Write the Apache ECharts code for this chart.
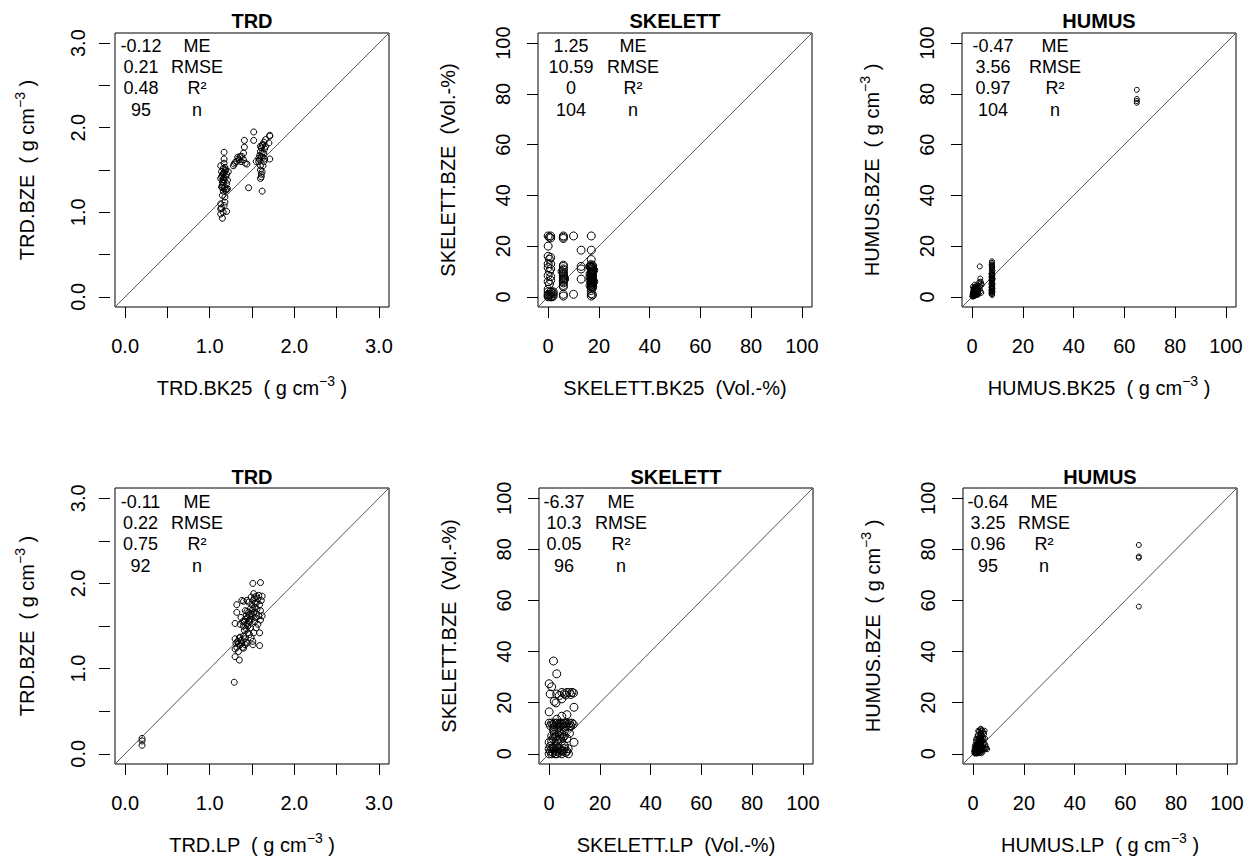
<!DOCTYPE html>
<html><head><meta charset="utf-8">
<script src="https://cdn.jsdelivr.net/npm/echarts@6/dist/echarts.min.js"></script>
<style>html,body{margin:0;padding:0;background:#fff}#c{width:1253px;height:861px}</style>
</head><body><div id="c"></div>
<script>
// ---------- data ----------
const panelTitles = ["TRD", "SKELETT", "HUMUS", "TRD", "SKELETT", "HUMUS"];
const xNames = ["TRD.BK25", "SKELETT.BK25", "HUMUS.BK25", "TRD.LP", "SKELETT.LP", "HUMUS.LP"];
const yNames = ["TRD.BZE", "SKELETT.BZE", "HUMUS.BZE", "TRD.BZE", "SKELETT.BZE", "HUMUS.BZE"];
const units = ["gcm", "vol", "gcm", "gcm", "vol", "gcm"];
const statLabels = ["ME", "RMSE", "R\u00B2", "n"];
const statValues = [
  ["-0.12", "0.21", "0.48", "95"],
  ["1.25", "10.59", "0", "104"],
  ["-0.47", "3.56", "0.97", "104"],
  ["-0.11", "0.22", "0.75", "92"],
  ["-6.37", "10.3", "0.05", "96"],
  ["-0.64", "3.25", "0.96", "95"]
];
const trdTicks = [0, 0.5, 1, 1.5, 2, 2.5, 3];
const trdTickLabels = [0, 1, 2, 3];
const pctTicks = [0, 20, 40, 60, 80, 100];
const pctTickLabels = [0, 20, 40, 60, 80, 100];
const trdRange = [-0.12, 3.12];
const pctRange = [-4, 104];

const trdBk25 = [
 [1.13,1.04],[1.13,0.98],[1.14,1.05],[1.15,0.93],[1.16,1.0],[1.17,1.08],[1.2,1.01],[1.18,1.12],[1.15,1.2],[1.16,1.25],
 [1.17,1.28],[1.14,1.30],[1.15,1.32],[1.16,1.35],[1.17,1.38],[1.13,1.40],[1.14,1.42],[1.15,1.44],[1.16,1.46],[1.17,1.47],
 [1.18,1.49],[1.19,1.50],[1.20,1.45],[1.21,1.28],[1.18,1.30],[1.19,1.26],[1.2,1.34],[1.15,1.36],[1.17,1.41],[1.16,1.52],
 [1.13,1.55],[1.17,1.58],[1.17,1.63],[1.17,1.71],[1.19,1.42],[1.14,1.48],[1.18,1.53],[1.15,1.29],[1.16,1.39],[1.2,1.27],
 [1.13,1.10],[1.18,1.18],[1.21,1.38],[1.22,1.48],
 [1.28,1.55],[1.29,1.57],[1.30,1.59],[1.32,1.60],[1.33,1.65],[1.34,1.63],[1.35,1.62],[1.36,1.66],[1.37,1.60],[1.38,1.66],
 [1.40,1.62],[1.40,1.70],[1.41,1.77],[1.41,1.85],[1.44,1.57],[1.46,1.29],[1.42,1.58],
 [1.58,1.60],[1.59,1.62],[1.60,1.55],[1.60,1.50],[1.61,1.45],[1.61,1.42],[1.60,1.40],[1.62,1.25],[1.59,1.67],[1.60,1.72],
 [1.61,1.76],[1.62,1.79],[1.63,1.80],[1.64,1.83],[1.62,1.70],[1.63,1.65],[1.64,1.60],[1.65,1.63],[1.66,1.86],[1.65,1.75],
 [1.63,1.55],[1.62,1.48],[1.61,1.66],[1.64,1.70],[1.66,1.78],[1.58,1.64],[1.60,1.78],
 [1.52,1.95],[1.52,1.85],[1.71,1.90],[1.71,1.91],[1.70,1.82],[1.71,1.63],[1.55,1.60]
];
const skelettBk25 = [
 [0,24],[0.5,23.5],[1,24],[1,23.2],[0,20],[0,16],[1,15.5],[0.5,14.8],[0,13],[1,13],
 [0,11.5],[1,11],[0.5,10],[0,8.4],[1,8],[0,6],[1,6.5],[0.5,5],[0,3],[0,2],
 [1,2],[0,1],[1,1],[0.5,0.5],[0,0],[1,0],[2,1.2],[2,0.3],[1.5,1.8],[0,0.5],[1.5,0],[2,2],
 [6,24],[6,23.5],[6,23],[6,12.5],[6,12],[6,11],[6,10.5],[6,9.5],[6,9],[6,8.5],
 [6,8],[6,7.5],[6,7],[6,6.5],[6,6],[6,5.5],[6,4.5],[6,4],[6,1],[6,0.3],[5.5,10],[6.5,7],
 [10,24],[10,1],[13,18.4],[13,12],[13,11],[13,7],
 [17,24],[17,18.4],[17,14.7],[17,12.7],[17,12],[17,11.3],[17,10.7],[17,10],[17,9.3],[17,8.7],
 [17,8],[17,7.3],[17,6.7],[17,6],[17,5.3],[17,4.7],[17,4],[17,3.3],[17,2.5],[17,1.2],
 [17,0.3],[17.5,12.3],[17.5,11.6],[17.5,10.9],[17.5,10.2],[17.5,9.6],[17.5,8.9],[17.5,8.3],[17.5,7.6],[17.5,6.9],
 [17.5,6.3],[17.5,5.6],[17.5,5.0],[17.5,4.3],[17.5,3.6],[17.5,0.8],[16.5,11.8],[16.5,9.0],[16.5,6.5],[16.5,4.4],
 [16.5,12.2],[16.5,7.8],[18,10.5],[18,6]
];
const humusBk25 = [
 [0.2,0.3],[0.3,0.8],[0.4,1.2],[0.5,0.5],[0.5,1.8],[0.6,2.2],[0.7,1.0],[0.8,0.4],[0.8,1.5],[0.9,2.8],
 [1.0,0.7],[1.0,3.2],[1.1,1.9],[1.2,2.5],[1.2,1.1],[1.3,0.6],[1.4,3.6],[1.5,2.0],[1.5,4.2],[1.6,1.4],
 [1.7,2.9],[1.8,0.9],[1.9,3.4],[2.0,2.4],[2.1,1.7],[2.2,4.6],[0.1,0.1],[0.3,1.5],[0.6,0.2],[0.9,1.3],
 [1.1,2.6],[1.3,3.0],[1.6,2.6],[1.9,1.2],[2.3,2.0],[2.4,3.1],[0.4,2.0],[0.7,2.7],[1.2,3.9],[1.7,1.8],
 [2.0,0.8],[0.2,1.0],[0.5,3.0],[0.8,2.3],[1.4,0.9],[1.8,3.8],[0.3,4.0],[1.0,4.8],[2.5,1.0],[0.6,3.5],
 [3.0,12.0],[3.2,7.2],[3.4,6.0],[3.5,5.3],[3.1,4.2],[3.3,2.2],[3.6,1.6],[3.0,3.0],[3.8,4.8],[2.8,5.8],
 [7.8,14.0],[7.8,13.4],[7.8,12.8],[7.8,12.0],[7.8,11.3],[7.8,10.8],[7.8,10.0],[7.8,9.4],[7.8,8.8],[7.8,8.2],
 [7.8,7.5],[7.8,7.0],[7.8,6.2],[7.8,5.6],[7.8,4.9],[7.8,4.3],[7.8,3.5],[7.8,3.0],[7.8,2.2],[7.8,1.6],
 [7.8,0.9],[7.6,9.0],[7.6,7.8],[7.6,6.6],[7.6,5.2],[7.6,3.8],[7.6,2.6],[7.6,1.3],[8.0,10.4],[8.0,8.5],
 [8.0,6.8],[8.0,5.0],[8.0,3.3],[8.0,2.0],[7.9,11.8],[7.7,12.5],[7.9,4.0],[7.7,1.9],[7.9,0.8],[8.0,7.3],
 [64.9,81.6],[64.9,78.0],[64.9,77.2],[64.9,76.5]
];
const trdLp = [
 [0.2,0.18],[0.2,0.15],[0.2,0.10],
 [1.29,0.84],[1.30,1.14],[1.35,1.10],[1.51,2.00],[1.60,2.01],[1.32,1.75],[1.32,1.66],[1.30,1.53],[1.59,1.42],[1.59,1.27],[1.51,1.28],[1.51,1.32],
 [1.30,1.35],[1.31,1.30],[1.32,1.25],[1.30,1.23],[1.33,1.32],[1.34,1.20],[1.35,1.36],[1.36,1.28],[1.37,1.33],[1.38,1.30],
 [1.39,1.25],[1.40,1.24],[1.41,1.35],[1.42,1.28],[1.43,1.31],[1.44,1.30],[1.34,1.29],[1.36,1.37],[1.40,1.38],[1.45,1.42],[1.47,1.40],
 [1.40,1.50],[1.41,1.55],[1.42,1.58],[1.43,1.62],[1.44,1.52],[1.45,1.60],[1.46,1.66],[1.47,1.55],[1.48,1.70],[1.49,1.62],
 [1.50,1.58],[1.50,1.75],[1.51,1.80],[1.52,1.66],[1.53,1.72],[1.54,1.60],[1.55,1.85],[1.56,1.78],[1.57,1.82],[1.58,1.86],
 [1.59,1.75],[1.60,1.68],[1.61,1.80],[1.62,1.85],[1.55,1.65],[1.53,1.55],[1.48,1.48],[1.46,1.78],[1.44,1.80],[1.42,1.68],
 [1.40,1.79],[1.38,1.80],[1.39,1.55],[1.41,1.45],[1.43,1.47],[1.45,1.50],[1.47,1.63],[1.49,1.84],[1.51,1.70],[1.52,1.88],
 [1.54,1.77],[1.56,1.70],[1.58,1.62],[1.60,1.57],[1.62,1.62],[1.50,1.64],[1.46,1.56],[1.36,1.52],[1.37,1.60],[1.57,1.52],
 [1.55,1.48],[1.53,1.83],[1.48,1.58],[1.44,1.67],[1.52,1.42],[1.49,1.36]
];
const skelettLp = [
 [1.7,36.3],[3,31.3],[0,27.4],[1,26.2],[0.4,23.4],[3,23.4],[4,22.8],[5,24],[6,23.5],[7,24],
 [8,24],[9,24],[9.6,23.8],[6.5,23],[8.5,23.2],[2.7,19.9],[5,21.5],[9.8,18.2],[0,16.4],[7,15.3],
 [5,14.7],[3,13.5],[1.7,9.4],[9.8,4.5],[0,4.5],[7.6,0],[2,20.5],
 [0,12],[0.5,11],[1,12],[1.5,11.5],[2,12],[2.5,11],[3,12],[3.5,11.5],[4,12],[4.5,11],
 [5,12],[5.5,11.5],[6,12],[6.5,11],[7,12],[7.5,11.5],[8,12],[8.5,11],[9,12],[9.5,11.5],
 [2,10.5],[4,10.5],[6,10.5],[8,10.5],
 [1,7],[1.5,6],[2,7.5],[2.5,6.5],[3,7],[3.5,5.5],[4,7],[4.5,6],[5,7.5],[5.5,6.5],
 [6,7],[7,6],[8,8],[2,8.5],[4,8.5],[6,9],[1,5],[3,5],[5,5],
 [0,0],[0.5,1],[1,2],[1.5,0.5],[2,1.5],[2.5,0],[3,1],[3.5,2],[4,0.5],[4.5,1.5],
 [5,0],[5.5,1],[6,2],[6.5,0.5],[7,1],[1,0],[2,2.2],[3,0],[4,2],[5,1.2],
 [0,2],[0.5,3],[3,3],[6,3],[1.5,2.5],[7.5,2]
];
const humusLp = [
 [0.5,0.2],[0.6,0.8],[0.7,1.5],[0.8,0.4],[0.9,2.1],[1.0,1.0],[1.0,2.8],[1.1,0.6],[1.2,1.8],[1.2,3.3],
 [1.3,0.3],[1.3,2.4],[1.4,1.2],[1.4,4.0],[1.5,0.8],[1.5,2.9],[1.6,1.6],[1.6,3.7],[1.7,0.5],[1.7,2.2],
 [1.8,4.5],[1.8,1.3],[1.9,3.0],[1.9,0.9],[2.0,2.0],[2.0,5.2],[2.1,1.5],[2.1,3.5],[2.2,0.7],[2.2,4.2],
 [2.3,2.6],[2.3,6.0],[2.4,1.1],[2.4,3.9],[2.5,5.0],[2.5,2.0],[2.6,7.0],[2.6,0.4],[2.7,3.2],[2.7,6.5],
 [2.8,1.7],[2.8,4.8],[2.9,8.0],[2.9,2.5],[3.0,9.8],[3.0,5.7],[3.0,1.0],[3.1,3.8],[3.1,7.5],[3.2,2.0],
 [3.2,6.2],[3.3,8.8],[3.3,4.4],[3.4,1.4],[3.4,5.3],[3.5,3.0],[3.5,7.0],[3.6,9.2],[3.6,2.3],[3.7,4.9],
 [3.8,6.4],[3.8,0.8],[3.9,3.6],[4.0,8.4],[4.0,2.7],[4.1,5.8],[4.2,1.8],[4.3,7.7],[4.4,4.2],[4.5,9.0],
 [4.6,2.2],[4.7,6.0],[4.8,3.5],[5.0,2.0],[5.2,2.5],[5.5,1.8],[0.4,1.2],[0.6,2.5],[0.8,3.5],[1.1,4.8],
 [1.5,5.5],[1.7,6.8],[1.9,7.5],[2.2,8.6],[0.9,0.1],[1.6,0.1],[2.5,0.3],[3.3,0.2],[1.2,5.8],[2.0,9.0],[2.8,9.5],
 [65.3,81.7],[65.3,77.2],[65.3,76.7],[65.3,57.6]
];
const panelData = [trdBk25, skelettBk25, humusBk25, trdLp, skelettLp, humusLp];

// ---------- layout (pixels) ----------
const boxes = [
  {left:115, top:33, width:274, height:274},
  {left:538, top:33, width:274, height:274},
  {left:962, top:33, width:274, height:274},
  {left:115, top:488, width:274, height:276},
  {left:539, top:488, width:274, height:276},
  {left:963, top:488, width:274, height:276}
];
const statCol1 = [141, 571, 993, 140.5, 564, 988];
const statCol2 = [197, 633, 1055, 197, 621, 1044];
const symSizes = [6, 8, 5, 6, 8, 5];
const FONT = '"Liberation Sans", Arial, Helvetica, sans-serif';

function axisName(base, unit) {
  if (unit === 'vol') return '{a|' + base + '  (Vol.-%)}';
  return '{a|' + base + '  ( g cm}{s|\u22123}{a| )}';
}
const rich = {
  a: {fontSize: 20, fontFamily: FONT, color: '#000', lineHeight: 28},
  s: {fontSize: 14, fontFamily: FONT, color: '#000', verticalAlign: 'top', lineHeight: 14}
};

const grids = [], xAxes = [], yAxes = [], series = [], graphics = [];
for (let i = 0; i < 6; i++) {
  const isTrd = panelTitles[i] === 'TRD';
  const rng = isTrd ? trdRange : pctRange;
  const ticks = isTrd ? trdTicks : pctTicks;
  const labs = isTrd ? trdTickLabels : pctTickLabels;
  const fmt = v => isTrd ? Number(v).toFixed(1) : String(Math.round(v));
  const b = boxes[i];
  grids.push({left: b.left, top: b.top, width: b.width, height: b.height, containLabel: false,
    show: true, borderColor: '#000', borderWidth: 1, backgroundColor: 'transparent'});
  const common = {
    type: 'value', gridIndex: i, min: rng[0], max: rng[1],
    splitLine: {show: false},
    axisLine: {show: false, onZero: false},
    axisTick: {show: true, inside: false, length: 11, customValues: ticks, lineStyle: {color: '#000', width: 1}},
    nameLocation: 'middle',
    nameTextStyle: {rich: rich, fontFamily: FONT, fontSize: 20, color: '#000'}
  };
  xAxes.push(Object.assign({}, common, {
    position: 'bottom',
    axisLabel: {customValues: labs, formatter: fmt, fontSize: 20, fontFamily: FONT, color: '#000', margin: 29},
    name: axisName(xNames[i], units[i]), nameGap: 67
  }));
  yAxes.push(Object.assign({}, common, {
    position: 'left',
    offset: isTrd ? 5 : 0,
    axisLabel: {customValues: labs, formatter: fmt, fontSize: 20, fontFamily: FONT, color: '#000', margin: isTrd ? 22 : 25, rotate: 90},
    name: axisName(yNames[i], units[i]), nameGap: isTrd ? 69 : 76
  }));
  series.push({
    type: 'scatter', xAxisIndex: i, yAxisIndex: i, data: panelData[i],
    symbol: 'circle', symbolSize: symSizes[i], silent: true,
    itemStyle: {color: 'rgba(0,0,0,0)', borderColor: '#000', borderWidth: 1, opacity: 1}
  });
  series.push({
    type: 'line', xAxisIndex: i, yAxisIndex: i, data: [[rng[0], rng[0]], [rng[1], rng[1]]],
    symbol: 'none', silent: true, lineStyle: {color: '#555', width: 1}, z: 1
  });
  // title
  const cx = b.left + b.width / 2;
  graphics.push({type: 'text', x: cx, y: b.top - (i < 3 ? 12 : 11),
    style: {text: panelTitles[i], fill: '#000', font: 'bold 20px ' + FONT, align: 'center', verticalAlign: 'middle'}});
  // stats block
  const rowTop = b.top + (i < 3 ? 12.5 : 13.5);
  for (let r = 0; r < 4; r++) {
    const y = rowTop + r * 21.4;
    graphics.push({type: 'text', x: statCol1[i], y: y,
      style: {text: statValues[i][r], fill: '#000', font: '18px ' + FONT, align: 'center', verticalAlign: 'middle'}});
    graphics.push({type: 'text', x: statCol2[i], y: y,
      style: {text: statLabels[r], fill: '#000', font: '18px ' + FONT, align: 'center', verticalAlign: 'middle'}});
  }
}

const chart = echarts.init(document.getElementById('c'), null, {renderer: 'svg'});
chart.setOption({
  animation: false,
  backgroundColor: '#fff',
  grid: grids, xAxis: xAxes, yAxis: yAxes, series: series, graphic: graphics
});
</script>
</body></html>
